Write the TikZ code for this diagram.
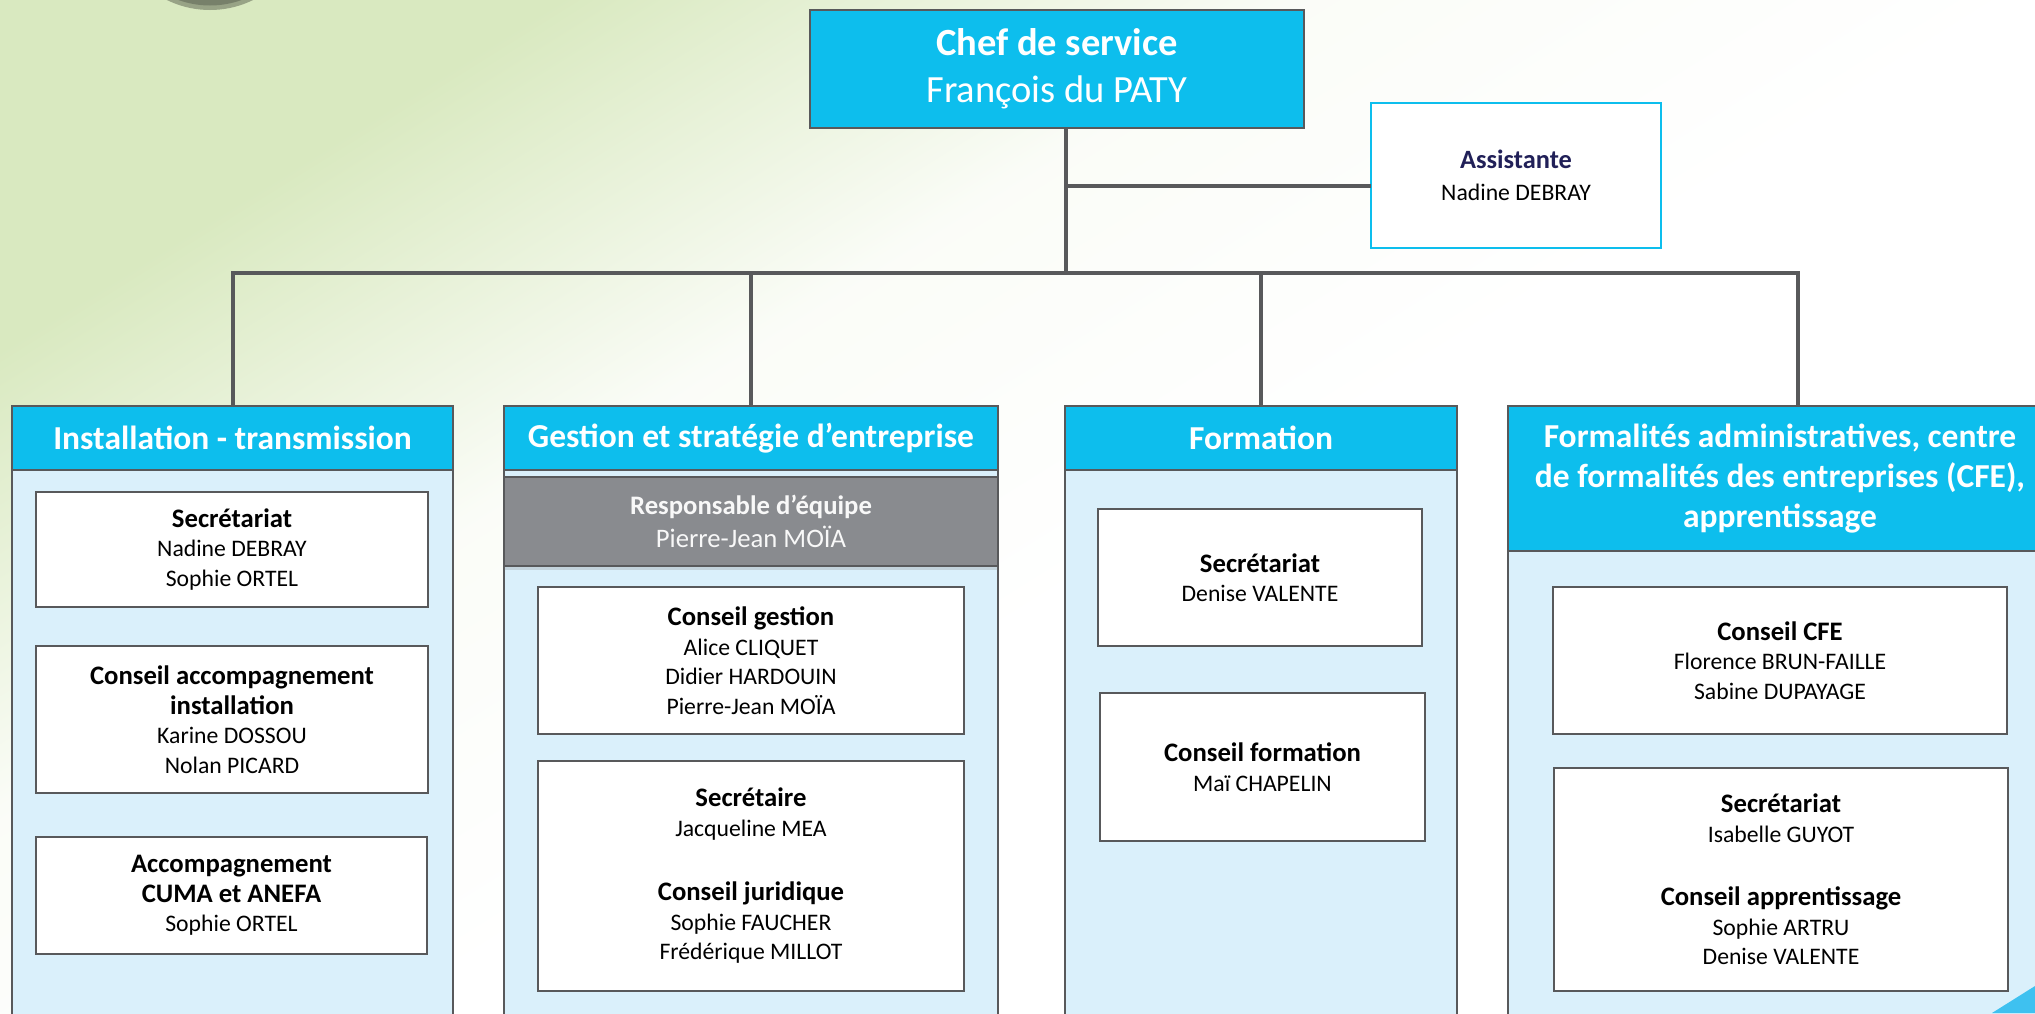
\documentclass[tikz,border=0pt]{standalone}
\usepackage{fontspec}
\setmainfont{Carlito}
\usetikzlibrary{positioning,shadows}

\newlength{\du}
\setlength{\du}{10pt}
\definecolor{diacyan}{rgb}{0.050980, 0.745098, 0.929412}
\definecolor{diagrid}{rgb}{0.345098, 0.349020, 0.356863}
\definecolor{diapale}{rgb}{0.854902, 0.941176, 0.984314}
\definecolor{diagrey}{rgb}{0.537255, 0.545098, 0.560784}
\definecolor{dianavy}{rgb}{0.129412, 0.125490, 0.345098}
\definecolor{diagreen}{rgb}{0.850980, 0.913725, 0.752941}
\definecolor{diasky}{rgb}{0.243137, 0.756863, 0.941176}
\pgfdeclarehorizontalshading{diabg}{100bp}{color(0bp)=(diagreen); color(26bp)=(diagreen); color(40bp)=(white!88!diagreen); color(54bp)=(white); color(100bp)=(white)}
\newcommand{\diarole}[1]{{\fontsize{26.7}{29.5}\selectfont\bfseries #1}}
\tikzset{
  chefbox/.style={rectangle, draw=diagrid, line width=0.27\du, fill=diacyan, text=white, align=center, inner sep=0pt, font=\fontsize{38.5}{47}\selectfont},
  assistbox/.style={rectangle, draw=diacyan, line width=0.25\du, fill=white, align=center, inner sep=0pt, font=\fontsize{23.7}{32}\selectfont},
  colbody/.style={rectangle, draw=diagrid, line width=0.25\du, fill=diapale, inner sep=0pt},
  colhead/.style={rectangle, draw=diagrid, line width=0.25\du, fill=diacyan, text=white, align=center, inner sep=0pt, font=\fontsize{33.5}{40}\selectfont\bfseries},
  leadbox/.style={rectangle, draw=diagrid, line width=0.25\du, fill=diagrey, text=white!94!diagrey, align=center, inner sep=0pt, font=\fontsize{26.7}{33}\selectfont, drop shadow={opacity=0.25, shadow xshift=0pt, shadow yshift=-0.4\du}},
  unitbox/.style={rectangle, draw=diagrid, line width=0.2\du, fill=white, align=center, inner sep=0pt, font=\fontsize{23.7}{29.5}\selectfont},
  link/.style={draw=diagrid, line width=0.4\du}
}

\begin{document}
\begin{tikzpicture}
\pgftransformxscale{1.000000}
\pgftransformyscale{-1.000000}
\useasboundingbox (0.000000\du,0.000000\du) rectangle (203.500000\du,101.300000\du);
\clip (0.000000\du,0.000000\du) rectangle (203.500000\du,101.300000\du);
\begin{scope}
\pgftransformreset
\shade[shading=diabg, shading angle=-58] (0.000000\du,0.000000\du) rectangle (203.500000\du,-101.300000\du);
\end{scope}
\fill[black!30!diagreen] (21.000000\du,-8.750000\du) circle (9.750000\du);
\fill[black!45!diagreen] (21.000000\du,-8.750000\du) circle (9.300000\du);
% top
\node[chefbox, minimum width=49.400000\du, minimum height=11.800000\du, text depth=0.800000\du] (chef) at (105.700000\du,6.900000\du){\textbf{Chef de service}\\François du PATY};
\node[assistbox, minimum width=29.000000\du, minimum height=14.500000\du] (assist) at (151.600000\du,17.550000\du){{\color{dianavy}\fontsize{26.4}{32}\selectfont\bfseries Assistante}\\Nadine DEBRAY};
% installation
\node[colbody, minimum width=44.100000\du, minimum height=63.400000\du] (instbody) at (23.250000\du,72.300000\du){};
\node[colhead, minimum width=44.100000\du, minimum height=6.400000\du] (insthead) at (23.250000\du,43.800000\du){Installation - transmission};
\node[unitbox, minimum width=39.200000\du, minimum height=11.500000\du] (instsec) at (23.200000\du,54.950000\du){\diarole{Secrétariat}\\Nadine DEBRAY\\Sophie ORTEL};
\node[unitbox, minimum width=39.200000\du, minimum height=14.700000\du] (instconseil) at (23.200000\du,71.950000\du){\diarole{Conseil accompagnement}\\\diarole{installation}\\Karine DOSSOU\\Nolan PICARD};
\node[unitbox, minimum width=39.100000\du, minimum height=11.700000\du] (instcuma) at (23.150000\du,89.550000\du){\diarole{Accompagnement}\\\diarole{CUMA et ANEFA}\\Sophie ORTEL};
% gestion
\node[colbody, minimum width=49.400000\du, minimum height=63.400000\du] (gestbody) at (75.100000\du,72.300000\du){};
\node[colhead, minimum width=49.400000\du, minimum height=6.400000\du] (gesthead) at (75.100000\du,43.800000\du){Gestion et stratégie d’entreprise};
\node[leadbox, minimum width=49.400000\du, minimum height=8.900000\du] (gestlead) at (75.100000\du,52.150000\du){\textbf{Responsable d’équipe}\\Pierre-Jean MOÏA};
\node[unitbox, minimum width=42.600000\du, minimum height=14.700000\du] (gestconseil) at (75.100000\du,66.050000\du){\diarole{Conseil gestion}\\Alice CLIQUET\\Didier HARDOUIN\\Pierre-Jean MOÏA};
\node[unitbox, minimum width=42.600000\du, minimum height=23.000000\du] (gestjur) at (75.100000\du,87.600000\du){\diarole{Secrétaire}\\Jacqueline MEA\\[3.500000\du]\diarole{Conseil juridique}\\Sophie FAUCHER\\Frédérique MILLOT};
% formation
\node[colbody, minimum width=39.200000\du, minimum height=63.400000\du] (formbody) at (126.100000\du,72.300000\du){};
\node[colhead, minimum width=39.200000\du, minimum height=6.400000\du] (formhead) at (126.100000\du,43.800000\du){Formation};
\node[unitbox, minimum width=32.400000\du, minimum height=13.700000\du] (formsec) at (126.000000\du,57.750000\du){\diarole{Secrétariat}\\Denise VALENTE};
\node[unitbox, minimum width=32.500000\du, minimum height=14.800000\du] (formconseil) at (126.250000\du,76.700000\du){\diarole{Conseil formation}\\Maï CHAPELIN};
% cfe
\node[colbody, minimum width=54.400000\du, minimum height=63.400000\du] (cfebody) at (178.000000\du,72.300000\du){};
\node[colhead, minimum width=54.400000\du, minimum height=14.500000\du] (cfehead) at (178.000000\du,47.850000\du){Formalités administratives, centre\\de formalités des entreprises (CFE),\\apprentissage};
\node[unitbox, minimum width=45.400000\du, minimum height=14.700000\du] (cfeconseil) at (178.000000\du,66.050000\du){\diarole{Conseil CFE}\\Florence BRUN-FAILLE\\Sabine DUPAYAGE};
\node[unitbox, minimum width=45.400000\du, minimum height=22.300000\du] (cfesec) at (178.100000\du,87.950000\du){\diarole{Secrétariat}\\Isabelle GUYOT\\[3.400000\du]\diarole{Conseil apprentissage}\\Sophie ARTRU\\Denise VALENTE};
% links
\coordinate (hub) at (106.600000\du,27.300000\du);
\coordinate (tap) at (137.100000\du,18.600000\du);
\coordinate (cfedrop) at (179.800000\du,27.300000\du);
\draw[link] (chef.south -| hub)--(hub);
\draw[link] (hub |- tap)--(tap);
\draw[link] (insthead.north)--(insthead.north |- hub)--(cfedrop)--(cfedrop |- cfehead.north);
\draw[link] (gesthead.north |- hub)--(gesthead.north);
\draw[link] (formhead.north |- hub)--(formhead.north);
\fill[diasky] (199.200000\du,101.300000\du)--(203.500000\du,98.600000\du)--(203.500000\du,101.300000\du)--cycle;
\end{tikzpicture}
\end{document}
